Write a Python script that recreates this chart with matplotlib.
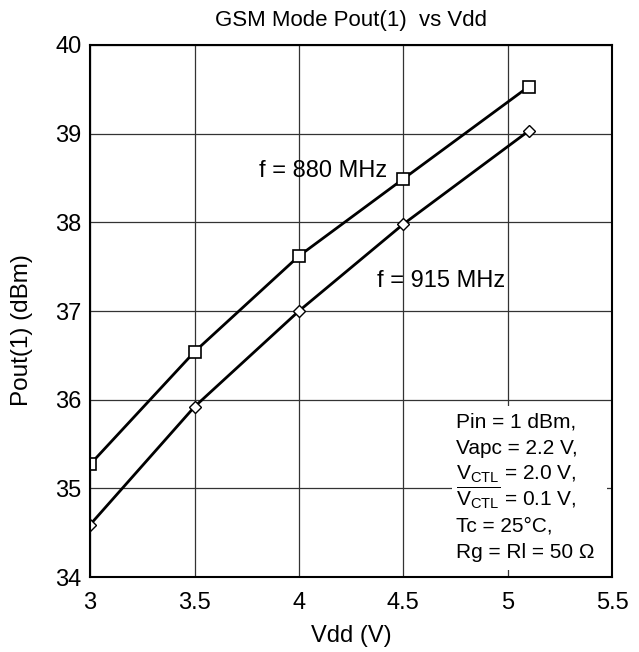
import matplotlib
matplotlib.use("Agg")
from matplotlib import pyplot as plt
from matplotlib.patches import Rectangle

plt.rcParams['font.family'] = ['Liberation Sans', 'DejaVu Sans']
plt.rcParams['mathtext.fontset'] = 'custom'
plt.rcParams['mathtext.rm'] = 'Liberation Sans'
plt.rcParams['mathtext.it'] = 'Liberation Sans'

vdd = [3.0, 3.5, 4.0, 4.5, 5.1]
pout_880 = [35.27, 36.54, 37.62, 38.49, 39.53]
pout_915 = [34.59, 35.92, 37.00, 37.98, 39.03]
xticks = [3, 3.5, 4, 4.5, 5, 5.5]
xlabels = ['3', '3.5', '4', '4.5', '5', '5.5']
yticks = [34, 35, 36, 37, 38, 39, 40]
note_lines = ['Pin = 1 dBm,',
              'Vapc = 2.2 V,',
              r'$\mathregular{V_{CTL}}$ = 2.0 V,',
              r'$\overline{\mathregular{V_{CTL}}}$ = 0.1 V,',
              'Tc = 25°C,',
              'Rg = Rl = 50 Ω']

fig = plt.figure(figsize=(6.39, 6.52), dpi=100)
ax = fig.add_axes([0.141, 0.115, 0.817, 0.816])

ax.plot(vdd, pout_880, color='black', lw=2, marker='s', ms=9,
        mfc='white', mec='black', mew=1.2, zorder=3)
ax.plot(vdd, pout_915, color='black', lw=2, marker='D', ms=6,
        mfc='white', mec='black', mew=1.0, zorder=3)

ax.set_xlim(3, 5.5)
ax.set_ylim(34, 40)
ax.set_xticks(xticks)
ax.set_xticklabels(xlabels)
ax.set_yticks(yticks)
ax.grid(True, color='#333333', lw=0.9)
ax.tick_params(length=0, labelsize=17)
ax.tick_params(axis='x', pad=11)
ax.tick_params(axis='y', pad=6)
for s in ax.spines.values():
    s.set_linewidth(1.5)
    s.set_zorder(4)

ax.text(4.116, 38.51, 'f = 880 MHz', fontsize=17, ha='center', va='baseline')
ax.text(4.68, 37.27, 'f = 915 MHz', fontsize=17, ha='center', va='baseline')

# white panel behind the conditions note
ax.add_patch(Rectangle((4.734, 34.08), 0.742, 1.85, facecolor='white',
                       edgecolor='none', zorder=2))
base_px = 428
for i, line in enumerate(note_lines):
    y = 40 - (base_px + 26 * i - 45) / 88.67
    ax.text(4.75, y, line, fontsize=15, ha='left', va='baseline', zorder=3)

ax.set_xlabel('Vdd (V)', fontsize=17, labelpad=8)
ax.set_ylabel('Pout(1) (dBm)', fontsize=17.5)
ax.yaxis.set_label_coords(-0.109, 0.464)
ax.set_title('GSM Mode Pout(1)  vs Vdd', fontsize=16, pad=14)

fig.savefig('out.png', dpi=100)
